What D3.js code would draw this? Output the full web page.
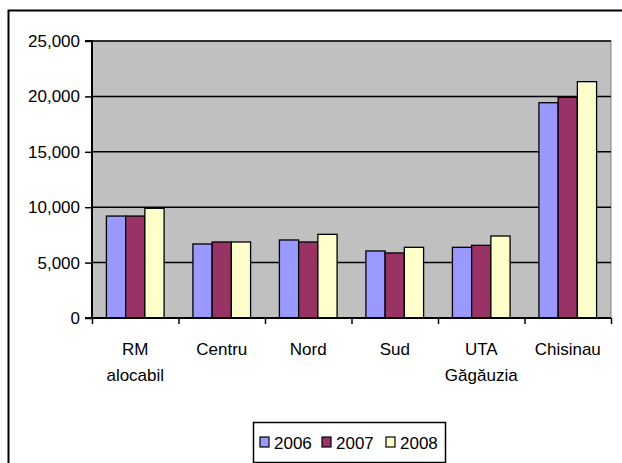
<!DOCTYPE html>
<html><head><meta charset="utf-8">
<script src="https://cdn.jsdelivr.net/npm/d3@7"></script>
<style>body{margin:0;background:#fff}svg{display:block;font-family:"Liberation Sans",Arial,sans-serif}</style>
</head><body><svg id="c" width="622" height="463"></svg>
<script>
const categories = [["RM","alocabil"],["Centru"],["Nord"],["Sud"],["UTA","Găgăuzia"],["Chisinau"]];
const years = ["2006","2007","2008"];
const v2006 = [9200, 6680, 7040, 6050, 6380, 19430];
const v2007 = [9200, 6860, 6860, 5870, 6560, 19920];
const v2008 = [9900, 6860, 7550, 6380, 7400, 21330];
const yTicks = [0,5000,10000,15000,20000,25000];
const colors = ["#9999ff","#993366","#ffffcc"];
const series = [v2006, v2007, v2008];

const FS = 17;
const svg = d3.select("#c");
const L = 92, R = 611, T = 41, B = 318;
svg.append("rect").attr("x",8.5).attr("y",10.5).attr("width",640).attr("height",500)
  .attr("fill","none").attr("stroke","#000").attr("stroke-width",2);

const x0 = d3.scaleBand().domain(d3.range(categories.length)).range([L,R]).paddingInner(0).paddingOuter(0);
const y = d3.scaleLinear().domain([0,25000]).range([B,T]);

svg.append("rect").attr("x",L).attr("y",T).attr("width",R-L).attr("height",B-T)
  .attr("fill","#c0c0c0").attr("stroke","#808080").attr("stroke-width",1);

svg.append("g").selectAll("line").data(yTicks.filter(d=>d>0)).join("line")
  .attr("x1",L).attr("x2",R).attr("y1",d=>y(d)).attr("y2",d=>y(d))
  .attr("stroke","#000").attr("stroke-width",1.5);

const bw = x0.bandwidth()/4.5;
const g = svg.append("g");
categories.forEach((c,i)=>{
  series.forEach((s,j)=>{
    const xs = x0(i) + (x0.bandwidth()-3*bw)/2 + j*bw;
    g.append("rect").attr("x",xs).attr("y",y(s[i])).attr("width",bw).attr("height",y(0)-y(s[i]))
      .attr("fill",colors[j]).attr("stroke","#000").attr("stroke-width",1.3);
  });
});

const ya = d3.axisLeft(y).tickValues(yTicks).tickSize(7).tickPadding(5).tickFormat(d3.format(","));
const yg = svg.append("g").attr("transform",`translate(${L},0)`).call(ya);
yg.select(".domain").attr("stroke","#000").attr("stroke-width",2).attr("d",`M-7,${T}H0V${B}H-7`);
yg.selectAll(".tick line").attr("stroke","#000").attr("stroke-width",1.5);
yg.selectAll("text").attr("font-size",FS).attr("fill","#000").attr("font-family","Liberation Sans, Arial, sans-serif");

const xa = d3.axisBottom(d3.scaleLinear().domain([0,categories.length]).range([L,R]))
  .tickValues(d3.range(categories.length+1)).tickSize(6).tickFormat("");
const xg = svg.append("g").attr("transform",`translate(0,${B})`).call(xa);
xg.select(".domain").attr("stroke","#000").attr("stroke-width",2).attr("d",`M${L},0H${R}`);
xg.selectAll(".tick line").attr("stroke","#000").attr("stroke-width",1.5);

const lab = svg.append("g").attr("font-size",FS).attr("fill","#000").attr("text-anchor","middle");
categories.forEach((c,i)=>{
  const t = lab.append("text").attr("x",x0(i)+x0.bandwidth()/2).attr("y",355);
  c.forEach((line,k)=>t.append("tspan").attr("x",x0(i)+x0.bandwidth()/2).attr("y",355+k*26).text(line));
});

const lg = svg.append("g");
lg.append("rect").attr("x",253.5).attr("y",422.5).attr("width",192).attr("height",40)
  .attr("fill","#fff").attr("stroke","#000").attr("stroke-width",1.5);
const lx = [260, 322, 386];
years.forEach((yr,j)=>{
  lg.append("rect").attr("x",lx[j]).attr("y",437).attr("width",9).attr("height",10)
    .attr("fill",colors[j]).attr("stroke","#000").attr("stroke-width",1.2);
  lg.append("text").attr("x",lx[j]+14).attr("y",449).attr("font-size",FS).text(yr);
});
</script></body></html>
